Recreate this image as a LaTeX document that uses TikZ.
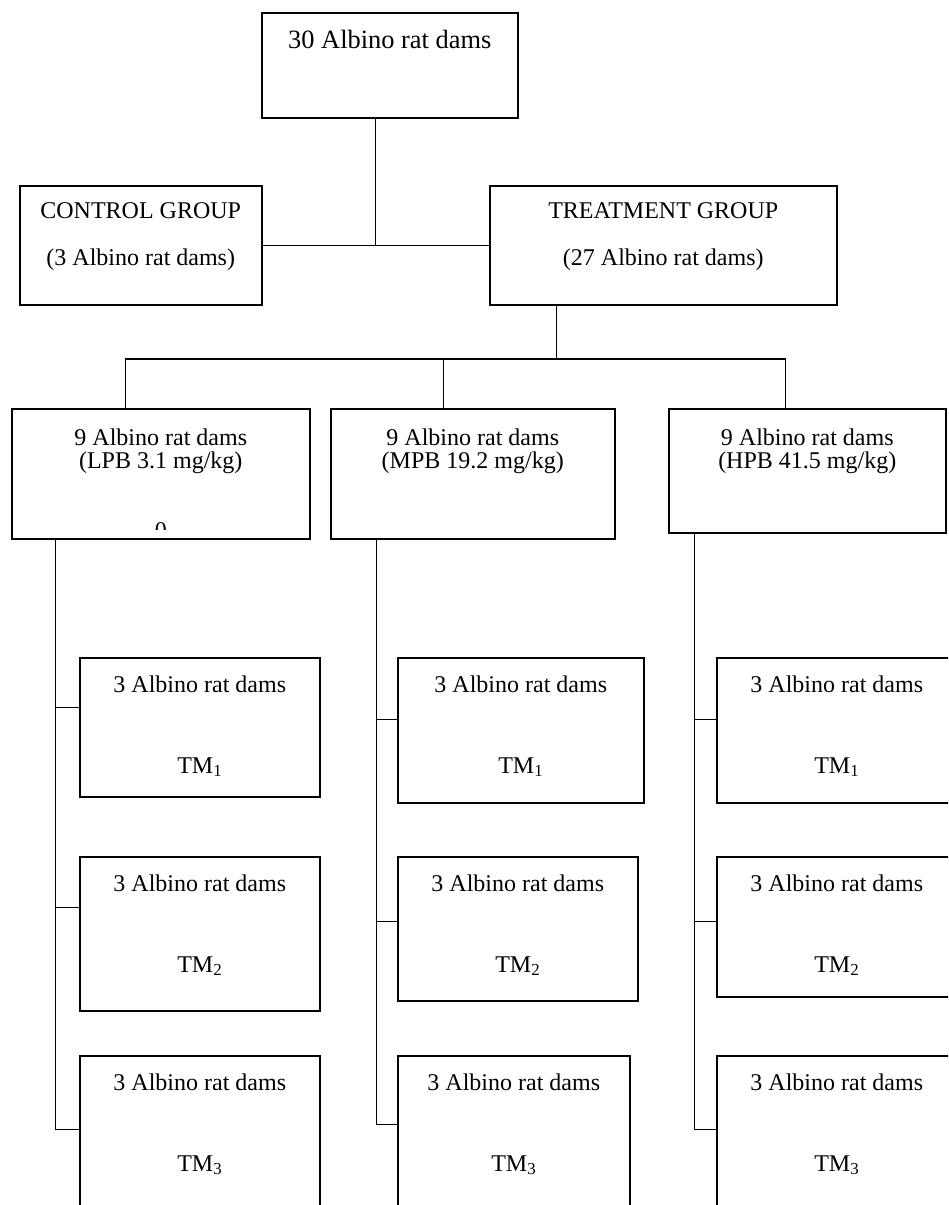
\documentclass[tikz,border=0pt]{standalone}
\usepackage{fontspec}
\setmainfont{Liberation Serif}
\tikzset{>=latex}

\begin{document}
\begin{tikzpicture}[x=1pt, y=-1pt,
    box/.style={draw, rectangle, line width=1.5pt, anchor=north west, inner sep=0pt},
    lbl/.style={anchor=base, inner sep=0pt, font=\fontsize{24}{28}\selectfont},
    link/.style={line width=1.3pt}]
    \useasboundingbox (0,0) rectangle (948,1205);
    \clip (0,0) rectangle (948,1205);
    % top level
    \node [box, minimum width=256pt, minimum height=105pt] (dams) at (261,12) {};
    \node [box, minimum width=242pt, minimum height=119pt] (ctl) at (19,185) {};
    \node [box, minimum width=347pt, minimum height=119pt] (trt) at (489,185) {};
    \node [lbl, font=\fontsize{26.4}{30}\selectfont] (damstxt) at ([yshift=-36]dams.north) {30 Albino rat dams};
    \node [lbl] (ctltxt) at ([yshift=-33]ctl.north) {CONTROL GROUP};
    \node [lbl] (ctlnum) at ([yshift=-80]ctl.north) {(3 Albino rat dams)};
    \node [lbl] (trttxt) at ([yshift=-33]trt.north) {TREATMENT GROUP};
    \node [lbl] (trtnum) at ([yshift=-80]trt.north) {(27 Albino rat dams)};
    % dose groups
    \node [box, minimum width=298pt, minimum height=130pt] (lpb) at (11,408) {};
    \node [box, minimum width=284pt, minimum height=130pt] (mpb) at (330,408) {};
    \node [box, minimum width=277pt, minimum height=124pt] (hpb) at (668,408) {};
    \node [lbl] (lpbtxt) at ([yshift=-37]lpb.north) {9 Albino rat dams};
    \node [lbl] (lpbdose) at ([yshift=-60]lpb.north) {(LPB 3.1 mg/kg)};
    \node [lbl] (mpbtxt) at ([yshift=-37]mpb.north) {9 Albino rat dams};
    \node [lbl] (mpbdose) at ([yshift=-60]mpb.north) {(MPB 19.2 mg/kg)};
    \node [lbl] (hpbtxt) at ([yshift=-37]hpb.north) {9 Albino rat dams};
    \node [lbl] (hpbdose) at ([yshift=-60]hpb.north) {(HPB 41.5 mg/kg)};
    \begin{scope}
      \clip (lpb.north west) rectangle ([yshift=10]lpb.south east);
      \node [lbl] (lpbzero) at ([yshift=1]lpb.south) {0};
    \end{scope}
    % TM boxes
    \node [box, minimum width=240pt, minimum height=139pt] (l1) at (79,657) {};
    \node [box, minimum width=240pt, minimum height=154pt] (l2) at (79,856) {};
    \node [box, minimum width=240pt, minimum height=250pt] (l3) at (79,1055) {};
    \node [box, minimum width=246pt, minimum height=145pt] (m1) at (397,657) {};
    \node [box, minimum width=240pt, minimum height=144pt] (m2) at (397,856) {};
    \node [box, minimum width=232pt, minimum height=250pt] (m3) at (397,1055) {};
    \node [box, minimum width=240pt, minimum height=145pt] (h1) at (716,657) {};
    \node [box, minimum width=240pt, minimum height=140pt] (h2) at (716,856) {};
    \node [box, minimum width=240pt, minimum height=250pt] (h3) at (716,1055) {};
    \foreach \b/\n in {l1/1, l2/2, l3/3, m1/1, m2/2, m3/3, h1/1, h2/2, h3/3} {
      \node [lbl] (txt\b) at ([yshift=-35]\b.north) {3 Albino rat dams};
      \node [lbl] (tm\b) at ([yshift=-116]\b.north) {TM\textsubscript{\n}};
    }
    % connectors
    \draw [link] ([xshift=-14]dams.south) -- ([xshift=-14]dams.south |- ctl.east);
    \draw [link] (ctl.east) -- (trt.west);
    \coordinate (bus) at (0,359);
    \draw [link] ([xshift=-107]trt.south) -- ([xshift=-107]trt.south |- bus);
    \draw [link] ([xshift=-35]lpb.north) |- ([xshift=-21.5]hpb.north |- bus) -- ([xshift=-21.5]hpb.north);
    \draw [link] ([xshift=-29]mpb.north) -- ([xshift=-29]mpb.north |- bus);
    \foreach \grp/\col/\dx/\sa/\sb/\sc in {lpb/l/-105/19.5/26/51, mpb/m/-96.5/10.5/7/56, hpb/h/-113/10.5/5/51} {
      \coordinate (trunk\col) at ([xshift=\dx]\grp.south);
      \draw [link] (trunk\col) |- ([yshift=\sc]\col3.west);
      \draw [link] ([yshift=\sa]\col1.west) -- ([yshift=\sa]\col1.west -| trunk\col);
      \draw [link] ([yshift=\sb]\col2.west) -- ([yshift=\sb]\col2.west -| trunk\col);
    }
\end{tikzpicture}
\end{document}
